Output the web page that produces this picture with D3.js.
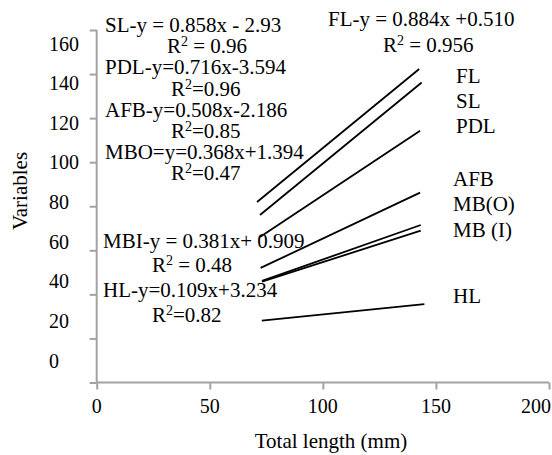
<!DOCTYPE html>
<html>
<head>
<meta charset="utf-8">
<script src="https://cdn.jsdelivr.net/npm/d3@7"></script>
<style>
  body { margin: 0; background: #fff; }
  text { font-family: "Liberation Serif", "Times New Roman", serif; fill: #000; }
</style>
</head>
<body>
<div id="chart"></div>
<script>
// series: name, start/end total length, start/end value
var series = ["FL", "SL", "PDL", "AFB", "MB(O)", "MB (I)", "HL"];
var xStart = [70.9, 72.2, 72.2, 72.5, 73.1, 73.1, 73.0];
var xEnd   = [142.6, 143.7, 143.0, 143.0, 143.3, 143.3, 144.9];
var yStart = [81.9, 76.0, 66.0, 52.0, 46.1, 45.8, 28.1];
var yEnd   = [142.3, 136.2, 114.3, 86.2, 71.5, 68.9, 35.6];

var xTicks = [0, 50, 100, 150, 200];
var yTicks = [0, 20, 40, 60, 80, 100, 120, 140, 160];

// equation text blocks ("^2" is drawn as a superscript)
var leftEqs = [
    "SL-y = 0.858x - 2.93", "R^2 = 0.96",
    "PDL-y=0.716x-3.594", "R^2=0.96",
    "AFB-y=0.508x-2.186", "R^2=0.85",
    "MBO=y=0.368x+1.394", "R^2=0.47"
];
var lowerEqs = ["MBI-y = 0.381x+ 0.909", "R^2 = 0.48", "HL-y=0.109x+3.234", "R^2=0.82"];
var topEqs = ["FL-y = 0.884x +0.510", "R^2 = 0.956"];

var width = 552, height = 455;

var svg = d3.select("#chart").append("svg")
    .attr("width", width)
    .attr("height", height);

var xScale = d3.scaleLinear().domain([0, 200]).range([96.7, 549]);
var yScale = d3.scaleLinear().domain([0, 160]).range([382.5, 30]);
// the printed y labels sit on their own spacing, not on the ticks
var yLabelScale = d3.scaleLinear().domain([0, 160]).range([367.5, 50.5]);

var axisColor = "#a3a3a3";

var xAxis = d3.axisBottom(xScale).tickValues(xTicks).tickSize(7).tickFormat("");
var yAxis = d3.axisLeft(yScale).tickValues(yTicks).tickSize(7).tickFormat("");

var xg = svg.append("g")
    .attr("transform", "translate(0," + yScale(0) + ")")
    .call(xAxis);
var yg = svg.append("g")
    .attr("transform", "translate(" + xScale(0) + ",0)")
    .call(yAxis);

[xg, yg].forEach(function (g) {
    g.select(".domain").attr("stroke", axisColor).attr("stroke-width", 2);
    g.selectAll(".tick line").attr("stroke", axisColor).attr("stroke-width", 2);
});
// plain line, no end caps
xg.select(".domain").attr("d", "M" + xScale(0) + ",0H" + xScale(200));
yg.select(".domain").attr("d", "M0," + yScale(160) + "V" + yScale(0));

svg.selectAll(".xlab")
    .data(xTicks)
    .enter()
    .append("text")
    .attr("x", function (d, i) { return i == xTicks.length - 1 ? 551 : xScale(d); })
    .attr("y", 413)
    .attr("text-anchor", function (d, i) { return i == xTicks.length - 1 ? "end" : "middle"; })
    .style("font-size", "20px")
    .text(function (d) { return d; });

svg.selectAll(".ylab")
    .data(yTicks)
    .enter()
    .append("text")
    .attr("x", 49)
    .attr("y", function (d) { return yLabelScale(d); })
    .style("font-size", "20px")
    .text(function (d) { return d; });

svg.append("text")
    .attr("x", 331)
    .attr("y", 448)
    .attr("text-anchor", "middle")
    .style("font-size", "21px")
    .text("Total length (mm)");

svg.append("text")
    .attr("transform", "translate(27,191) rotate(-90)")
    .attr("text-anchor", "middle")
    .style("font-size", "21px")
    .text("Variables");

// regression lines
var lineData = series.map(function (s, i) {
    return { name: s, pts: [[xStart[i], yStart[i]], [xEnd[i], yEnd[i]]] };
});
var line = d3.line()
    .x(function (d) { return xScale(d[0]); })
    .y(function (d) { return yScale(d[1]); });

svg.selectAll(".reg")
    .data(lineData)
    .enter()
    .append("path")
    .attr("d", function (d) { return line(d.pts); })
    .attr("fill", "none")
    .attr("stroke", "#000")
    .attr("stroke-width", 1.8);

// series names on the right
var nameY = [83, 108, 133, 186, 211, 237, 302.5];
var nameX = [456, 456, 456, 453, 453, 453, 453];
svg.selectAll(".name")
    .data(series)
    .enter()
    .append("text")
    .attr("x", function (d, i) { return nameX[i]; })
    .attr("y", function (d, i) { return nameY[i]; })
    .style("font-size", "21px")
    .text(function (d) { return d; });

// write an equation, turning "^2" into a small raised 2
function eq(t, x, y) {
    var txt = svg.append("text").attr("x", x).attr("y", y).style("font-size", "21px");
    var parts = t.split("^2");
    txt.append("tspan").text(parts[0]);
    if (parts.length > 1) {
        txt.append("tspan").attr("dy", -7).style("font-size", "14px").text("2");
        txt.append("tspan").attr("dy", 7).text(parts[1]);
    }
}

var leftY = [32, 53, 74, 96, 117, 138, 159, 180];
var leftX = [105, 167, 105, 171, 105, 171, 105, 171];
leftEqs.forEach(function (t, i) { eq(t, leftX[i], leftY[i]); });

var lowY = [248, 272, 297, 322];
var lowX = [103, 152, 103, 152];
lowerEqs.forEach(function (t, i) { eq(t, lowX[i], lowY[i]); });

var topY = [26, 52];
var topX = [328, 383];
topEqs.forEach(function (t, i) { eq(t, topX[i], topY[i]); });
</script>
</body>
</html>
